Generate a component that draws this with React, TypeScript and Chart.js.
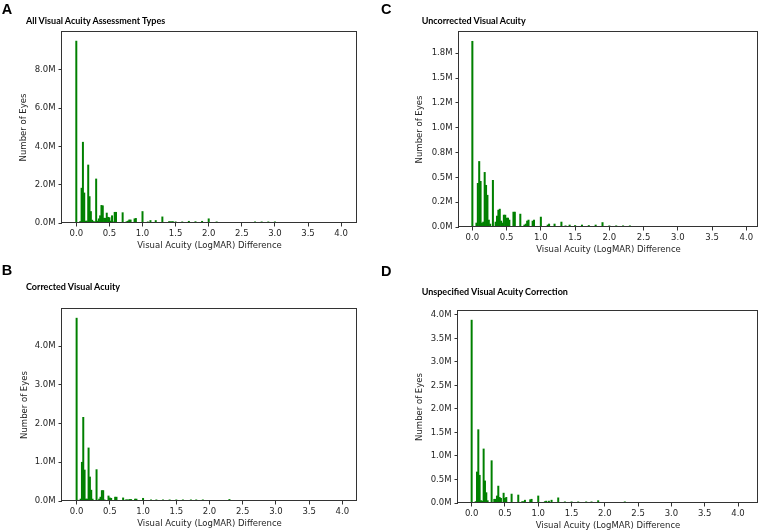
import React, { useEffect, useRef } from "react";
import { Chart, registerables } from "chart.js";

Chart.register(...registerables);

// ---- Data (counts in millions of eyes), bins of 0.02 LogMAR ----
const allX = [0.00, 0.06, 0.08, 0.10, 0.12, 0.14, 0.16, 0.18, 0.20, 0.22, 0.24, 0.26, 0.28, 0.30, 0.32, 0.34, 0.36, 0.38, 0.40, 0.42, 0.44, 0.46, 0.48, 0.50, 0.52, 0.54, 0.56, 0.58, 0.60, 0.70, 0.76, 0.78, 0.80, 0.82, 0.88, 0.90, 1.00, 1.08, 1.12, 1.20, 1.30, 1.40, 1.42, 1.44, 1.46, 1.50, 1.60, 1.70, 1.80, 1.90, 2.00, 2.12, 2.70, 2.80, 2.90, 3.00];
const allY = [9.5, 0.08, 1.82, 4.22, 1.57, 0.1, 0.1, 3.03, 1.38, 0.6, 0.15, 0.08, 0.06, 2.3, 0.1, 0.22, 0.38, 0.92, 0.9, 0.25, 0.25, 0.52, 0.3, 0.28, 0.1, 0.38, 0.06, 0.56, 0.56, 0.54, 0.07, 0.1, 0.16, 0.16, 0.22, 0.24, 0.6, 0.06, 0.13, 0.13, 0.32, 0.07, 0.07, 0.07, 0.07, 0.06, 0.06, 0.09, 0.07, 0.09, 0.22, 0.06, 0.06, 0.06, 0.06, 0.06];

const uncX = [0.00, 0.06, 0.08, 0.10, 0.12, 0.14, 0.16, 0.18, 0.20, 0.22, 0.24, 0.26, 0.30, 0.34, 0.36, 0.38, 0.40, 0.42, 0.44, 0.46, 0.48, 0.50, 0.52, 0.54, 0.60, 0.62, 0.70, 0.76, 0.78, 0.80, 0.82, 0.88, 0.90, 1.00, 1.10, 1.12, 1.20, 1.30, 1.36, 1.42, 1.50, 1.60, 1.70, 1.80, 1.90, 2.00, 2.10, 2.20, 2.30];
const uncY = [1.87, 0.04, 0.44, 0.66, 0.46, 0.04, 0.05, 0.55, 0.42, 0.32, 0.07, 0.03, 0.47, 0.05, 0.11, 0.17, 0.18, 0.06, 0.04, 0.12, 0.12, 0.09, 0.09, 0.07, 0.15, 0.15, 0.13, 0.02, 0.03, 0.06, 0.07, 0.06, 0.07, 0.1, 0.02, 0.03, 0.03, 0.05, 0.012, 0.02, 0.015, 0.02, 0.015, 0.02, 0.045, 0.012, 0.012, 0.012, 0.012];

const corX = [0.00, 0.02, 0.06, 0.08, 0.10, 0.12, 0.14, 0.16, 0.18, 0.20, 0.22, 0.24, 0.30, 0.34, 0.36, 0.38, 0.40, 0.42, 0.48, 0.50, 0.52, 0.58, 0.60, 0.70, 0.74, 0.76, 0.78, 0.80, 0.82, 0.88, 0.90, 1.00, 1.12, 1.20, 1.30, 1.40, 1.50, 1.60, 1.72, 1.80, 1.90, 2.30];
const corY = [4.72, 0.02, 0.05, 1.0, 2.16, 0.8, 0.05, 0.05, 1.37, 0.62, 0.28, 0.05, 0.81, 0.05, 0.1, 0.27, 0.27, 0.03, 0.13, 0.08, 0.07, 0.1, 0.1, 0.08, 0.03, 0.03, 0.03, 0.04, 0.04, 0.05, 0.05, 0.07, 0.03, 0.03, 0.03, 0.03, 0.03, 0.03, 0.03, 0.03, 0.03, 0.04];

const unsX = [0.00, 0.06, 0.08, 0.10, 0.12, 0.14, 0.16, 0.18, 0.20, 0.22, 0.24, 0.30, 0.34, 0.36, 0.38, 0.40, 0.42, 0.44, 0.48, 0.50, 0.52, 0.60, 0.70, 0.76, 0.78, 0.80, 0.88, 0.90, 1.00, 1.10, 1.12, 1.16, 1.20, 1.30, 1.40, 1.50, 1.60, 1.72, 1.80, 1.90, 2.30];
const unsY = [3.89, 0.03, 0.66, 1.56, 0.59, 0.05, 0.04, 1.15, 0.47, 0.22, 0.05, 0.9, 0.08, 0.08, 0.15, 0.36, 0.12, 0.1, 0.21, 0.1, 0.12, 0.19, 0.17, 0.03, 0.03, 0.06, 0.07, 0.08, 0.15, 0.03, 0.04, 0.04, 0.06, 0.11, 0.025, 0.025, 0.025, 0.025, 0.025, 0.05, 0.025];

const xTickValues = [0, 0.5, 1, 1.5, 2, 2.5, 3, 3.5, 4];
const xTickLabels = ["0.0", "0.5", "1.0", "1.5", "2.0", "2.5", "3.0", "3.5", "4.0"];

const allYTicks = [0, 2, 4, 6, 8];
const allYLabels = ["0.0M", "2.0M", "4.0M", "6.0M", "8.0M"];
const uncYTicks = [0, 0.25, 0.5, 0.75, 1.0, 1.25, 1.5, 1.75];
const uncYLabels = ["0.0M", "0.2M", "0.5M", "0.8M", "1.0M", "1.2M", "1.5M", "1.8M"];
const corYTicks = [0, 1, 2, 3, 4];
const corYLabels = ["0.0M", "1.0M", "2.0M", "3.0M", "4.0M"];
const unsYTicks = [0, 0.5, 1, 1.5, 2, 2.5, 3, 3.5, 4];
const unsYLabels = ["0.0M", "0.5M", "1.0M", "1.5M", "2.0M", "2.5M", "3.0M", "3.5M", "4.0M"];

const X_TITLE = "Visual Acuity (LogMAR) Difference";
const Y_TITLE = "Number of Eyes";

type Panel = {
  letter: string;
  title: string;
  xs: number[];
  ys: number[];
  yTicks: number[];
  yLabels: string[];
  xMin: number;
  xMax: number;
  box: [number, number, number, number]; // left, top, width, height
  plot: [number, number, number, number]; // left, top, right, bottom (page coords)
  yTitleX: number; // page x of y-title center
  letterPos: [number, number];
  titlePos: [number, number];
};

const panels: Panel[] = [
  {
    letter: "A", title: "All Visual Acuity Assessment Types", xs: allX, ys: allY,
    yTicks: allYTicks, yLabels: allYLabels, xMin: -0.216, xMax: 4.24,
    box: [0, 0, 380, 266], plot: [62, 32, 357, 223], yTitleX: 24,
    letterPos: [1.7, 1.5], titlePos: [26, 15.6],
  },
  {
    letter: "C", title: "Uncorrected Visual Acuity", xs: uncX, ys: uncY,
    yTicks: uncYTicks, yLabels: uncYLabels, xMin: -0.195, xMax: 4.17,
    box: [380, 0, 379, 266], plot: [459, 32, 758, 227], yTitleX: 420,
    letterPos: [381, 1.5], titlePos: [421.7, 16.2],
  },
  {
    letter: "B", title: "Corrected Visual Acuity", xs: corX, ys: corY,
    yTicks: corYTicks, yLabels: corYLabels, xMin: -0.22, xMax: 4.22,
    box: [0, 266, 380, 266], plot: [62, 309, 357, 501], yTitleX: 25,
    letterPos: [1.7, 263.2], titlePos: [26, 281.7],
  },
  {
    letter: "D", title: "Unspecified Visual Acuity Correction", xs: unsX, ys: unsY,
    yTicks: unsYTicks, yLabels: unsYLabels, xMin: -0.205, xMax: 4.30,
    box: [380, 266, 379, 266], plot: [458, 311, 758, 503], yTitleX: 420,
    letterPos: [381, 263.5], titlePos: [421.7, 286.6],
  },
];

const AXIS_COLOR = "#333333";
const TEXT_COLOR = "#262626";
const FONT = "DejaVu Sans";
const TICK_SIZE = 8.5;
const XH = 30;

const framePlugin = {
  id: "frame",
  afterDraw(chart: any) {
    const { ctx, chartArea } = chart;
    const l = Math.round(chartArea.left) - 0.5;
    const t = Math.round(chartArea.top) - 0.5;
    const r = Math.round(chartArea.right) - 0.5;
    const b = Math.round(chartArea.bottom) - 0.5;
    ctx.save();
    ctx.strokeStyle = AXIS_COLOR;
    ctx.lineWidth = 1;
    ctx.strokeRect(l, t, r - l, b - t);
    ctx.restore();
  },
};

function PanelChart({ p }: { p: Panel }) {
  const ref = useRef<HTMLCanvasElement>(null);
  const [bl, bt, bw, bh] = p.box;
  const [pl, pt, pr, pb] = p.plot;

  useEffect(() => {
    const canvas = ref.current;
    if (!canvas) return;
    const yMax = 1.05 * Math.max(...p.ys);
    const lineH = TICK_SIZE * 1.2;
    const chart = new Chart(canvas, {
      type: "bar",
      data: {
        datasets: [
          {
            data: p.xs.map((x, i) => ({ x, y: p.ys[i] })),
            backgroundColor: "#008000",
            borderWidth: 0,
            barPercentage: 1,
            categoryPercentage: 1,
          } as any,
        ],
      },
      options: {
        responsive: false,
        animation: false,
        devicePixelRatio: 1,
        events: [],
        layout: {
          padding: {
            left: 0,
            top: pt - bt,
            right: bw - (pr - bl),
            bottom: bh - (pb - bt) - XH,
          },
        },
        plugins: {
          legend: { display: false },
          tooltip: { enabled: false },
          title: { display: false },
        },
        scales: {
          x: {
            type: "linear",
            min: p.xMin,
            max: p.xMax,
            offset: false,
            afterBuildTicks: (s: any) => {
              s.ticks = xTickValues.map((v) => ({ value: v }));
            },
            afterFit: (s: any) => {
              s.height = XH;
            },
            grid: {
              display: true,
              drawOnChartArea: false,
              drawTicks: true,
              tickLength: 3.5,
              color: AXIS_COLOR,
              offset: false,
            },
            border: { display: false },
            ticks: {
              autoSkip: false,
              maxRotation: 0,
              padding: 1.8,
              color: TEXT_COLOR,
              font: { family: FONT, size: TICK_SIZE },
              callback: (_v: any, i: number) => xTickLabels[i],
            },
            title: {
              display: true,
              text: X_TITLE,
              color: TEXT_COLOR,
              font: { family: FONT, size: TICK_SIZE },
              padding: { top: 0, bottom: XH - 23 - lineH / 2 },
            },
          },
          y: {
            type: "linear",
            min: 0,
            max: yMax,
            afterBuildTicks: (s: any) => {
              s.ticks = p.yTicks.map((v) => ({ value: v }));
            },
            afterFit: (s: any) => {
              s.width = pl - bl;
            },
            grid: {
              display: true,
              drawOnChartArea: false,
              drawTicks: true,
              tickLength: 3.5,
              color: AXIS_COLOR,
            },
            border: { display: false },
            ticks: {
              autoSkip: false,
              padding: 3,
              color: TEXT_COLOR,
              font: { family: FONT, size: TICK_SIZE },
              callback: (_v: any, i: number) => p.yLabels[i],
            },
            title: {
              display: true,
              text: Y_TITLE,
              color: TEXT_COLOR,
              font: { family: FONT, size: TICK_SIZE },
              padding: { top: p.yTitleX - bl - lineH / 2, bottom: 0 },
            },
          },
        },
      } as any,
      plugins: [framePlugin],
    });
    return () => chart.destroy();
  }, []);

  return (
    <canvas
      ref={ref}
      width={bw}
      height={bh}
      style={{ position: "absolute", left: bl, top: bt, width: bw, height: bh, display: "block" }}
    />
  );
}

export default function App() {
  return (
    <div
      style={{
        position: "absolute",
        left: 0,
        top: 0,
        width: 759,
        height: 532,
        background: "#ffffff",
        overflow: "hidden",
      }}
    >
      {panels.map((p) => (
        <PanelChart key={p.letter} p={p} />
      ))}
      {panels.map((p) => (
        <div
          key={"l" + p.letter}
          style={{
            position: "absolute",
            left: p.letterPos[0],
            top: p.letterPos[1],
            fontFamily: "'Liberation Sans', Arial, sans-serif",
            fontWeight: 700,
            fontSize: 14.5,
            lineHeight: 1,
            color: "#000",
            whiteSpace: "nowrap",
          }}
        >
          {p.letter}
        </div>
      ))}
      {panels.map((p) => (
        <div
          key={"t" + p.letter}
          style={{
            position: "absolute",
            left: p.titlePos[0],
            top: p.titlePos[1],
            fontFamily: "Lato, 'Open Sans', sans-serif",
            fontWeight: 700,
            fontSize: 9,
            lineHeight: 1,
            color: "#000",
            whiteSpace: "nowrap",
          }}
        >
          {p.title}
        </div>
      ))}
    </div>
  );
}
